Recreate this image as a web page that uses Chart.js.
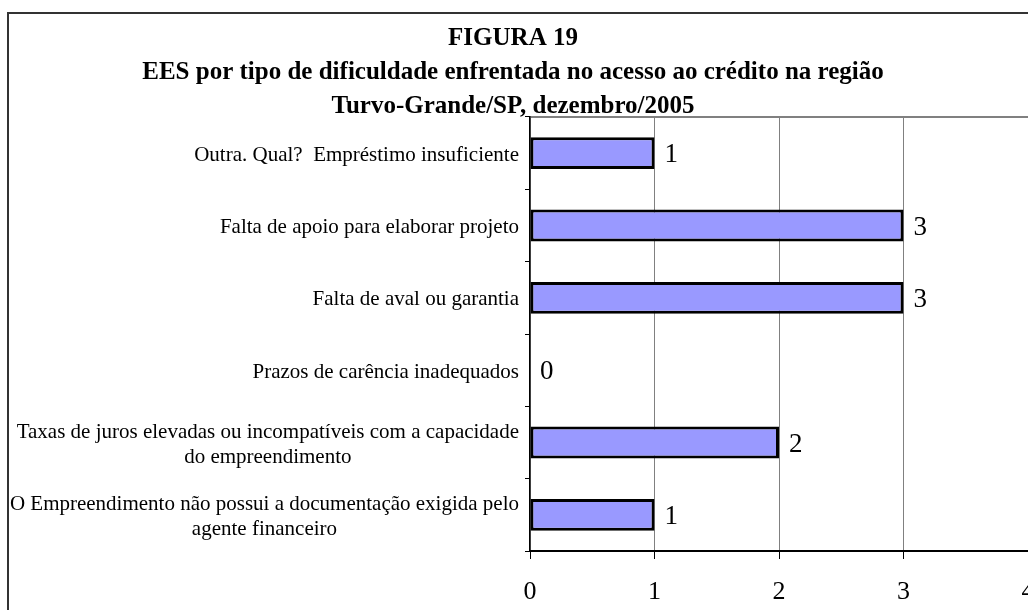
<!DOCTYPE html>
<html>
<head>
<meta charset="utf-8">
<script src="https://cdn.jsdelivr.net/npm/chart.js@4/dist/chart.umd.min.js"></script>
<style>
  html, body { margin: 0; padding: 0; background: #fff; overflow: hidden; }
  #frame {
    position: absolute; left: 7px; top: 12px;
    border-left: 2px solid #333; border-top: 2px solid #333;
    width: 1060px; height: 600px;
  }
  canvas { display: block; }
</style>
</head>
<body>
<div id="frame"><canvas id="chart" width="1060" height="600"></canvas></div>
<script>
// ================= DATA =================
const titleLines = [
  "FIGURA 19",
  "EES por tipo de dificuldade enfrentada no acesso ao crédito na região",
  "Turvo-Grande/SP, dezembro/2005"
];
const categories = [
  ["Outra. Qual?  Empréstimo insuficiente"],
  ["Falta de apoio para elaborar projeto"],
  ["Falta de aval ou garantia"],
  ["Prazos de carência inadequados"],
  ["Taxas de juros elevadas ou incompatíveis com a capacidade", "do empreendimento"],
  ["O Empreendimento não possui a documentação exigida pelo", "agente financeiro"]
];
const counts = [1, 3, 3, 0, 2, 1];
const xTicks = [0, 1, 2, 3, 4];

const SERIF = "'Liberation Serif', 'Times New Roman', serif";

// ================= PLUGINS =================
// keep the title centred on the visible part of the figure
const titleShift = {
  id: "titleShift",
  afterLayout(chart) {
    chart.titleBlock.left = 0;
    chart.titleBlock.right = 1008;
  }
};

// category labels: right aligned block, lines centred inside it
const catLabels = {
  id: "catLabels",
  afterDraw(chart) {
    const ctx = chart.ctx;
    const yScale = chart.scales.y;
    const rightEdge = yScale.right - 11;
    const lh = 25;
    ctx.save();
    ctx.font = "21px " + SERIF;
    ctx.fillStyle = "#000";
    ctx.textAlign = "center";
    ctx.textBaseline = "middle";
    categories.forEach((lines, i) => {
      const yc = yScale.getPixelForTick(i) + 2;
      const w = Math.max(...lines.map(l => ctx.measureText(l).width));
      const cx = rightEdge - w / 2;
      lines.forEach((l, k) => {
        ctx.fillText(l, cx, yc + (k - (lines.length - 1) / 2) * lh);
      });
    });
    ctx.restore();
  }
};

// value labels next to the bars
const valueLabels = {
  id: "valueLabels",
  afterDatasetsDraw(chart) {
    const ctx = chart.ctx;
    const meta = chart.getDatasetMeta(0);
    ctx.save();
    ctx.font = "27px " + SERIF;
    ctx.fillStyle = "#000";
    ctx.textAlign = "left";
    ctx.textBaseline = "middle";
    meta.data.forEach((bar, i) => {
      ctx.fillText(String(counts[i]), bar.x + 10, bar.y + 2);
    });
    ctx.restore();
  }
};

// ================= CHART =================
new Chart(document.getElementById("chart"), {
  type: "bar",
  data: {
    labels: categories.map(c => c.join(" ")),
    datasets: [{
      data: counts,
      backgroundColor: "#9999FF",
      borderColor: "#000",
      borderWidth: 3,
      borderSkipped: false,
      barPercentage: 0.44,
      categoryPercentage: 1
    }]
  },
  options: {
    indexAxis: "y",
    responsive: false,
    animation: false,
    layout: { padding: { left: 0, right: 41, top: 0, bottom: 0 } },
    plugins: {
      legend: { display: false },
      tooltip: { enabled: false },
      title: {
        display: true,
        text: titleLines,
        color: "#000",
        font: { family: SERIF, size: 25, weight: "bold", lineHeight: "34px" },
        padding: { top: 8, bottom: -7 }
      }
    },
    scales: {
      x: {
        type: "linear",
        min: 0,
        max: 4,
        afterBuildTicks(scale) { scale.ticks = xTicks.map(v => ({ value: v })); },
        afterFit(scale) { scale.height = 63; },
        ticks: { color: "#000", font: { family: SERIF, size: 26 }, padding: 18 },
        grid: { color: "#808080", lineWidth: 1, tickLength: 8, tickColor: "#000" },
        border: { color: "#000", width: 2 }
      },
      xTop: {
        type: "linear",
        position: "top",
        min: 0,
        max: 4,
        afterFit(scale) { scale.height = 0; },
        ticks: { display: false },
        grid: { drawOnChartArea: false, drawTicks: false },
        border: { color: "#808080", width: 2 }
      },
      y: {
        afterFit(scale) { scale.width = 521; },
        ticks: { display: false },
        grid: { drawOnChartArea: false, tickLength: 5, tickColor: "#000", offset: true },
        border: { color: "#000", width: 1.5 }
      }
    }
  },
  plugins: [titleShift, catLabels, valueLabels]
});
</script>
</body>
</html>
